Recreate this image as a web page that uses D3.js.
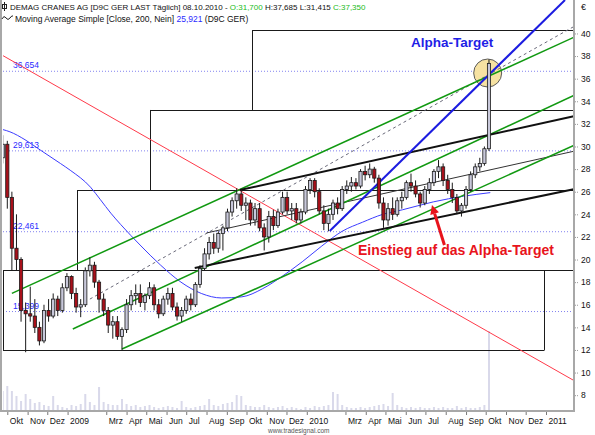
<!DOCTYPE html>
<html>
<head>
<meta charset="utf-8">
<script src="https://cdn.jsdelivr.net/npm/d3@7"></script>
<style>
  body { margin: 0; background: #fff; }
  svg { display: block; font-family: 'Liberation Sans', Arial, sans-serif; }
</style>
</head>
<body>
<div id="chart"></div>
<script>
// weekly candles, first week starts Mon 2008-09-22
const weekStart = '2008-09-22';
const wkOpen = [29.0,30.2,25.5,21.0,20.0,15.5,15.2,15.0,14.0,12.8,15.5,15.0,16.5,15.5,17.5,18.5,17.0,15.8,16.0,19.0,
  19.5,18.0,16.5,15.5,14.2,14.5,13.2,13.8,16.0,16.8,17.0,16.2,16.8,17.5,16.0,15.2,16.5,17.0,15.8,15.0,
  15.5,16.5,16.0,17.8,19.2,20.5,21.5,21.0,22.3,22.8,24.2,25.2,25.8,24.8,25.0,23.5,24.5,22.8,22.0,23.8,
  23.0,24.2,25.5,24.3,24.5,23.5,24.2,26.2,27.0,26.0,24.3,23.2,24.0,25.0,24.5,26.2,26.5,26.8,26.5,27.8,
  27.5,28.0,27.2,25.0,23.5,24.5,24.0,25.2,25.5,26.8,26.5,25.8,25.0,26.2,26.8,27.8,28.2,27.0,26.2,25.5,
  24.3,24.8,26.2,27.5,28.2,28.5,29.8];
const wkHigh = [31.0,30.5,26.0,24.0,20.2,16.2,17.6,16.5,14.5,16.0,16.5,17.0,16.8,17.9,18.8,18.6,17.5,16.5,19.3,20.2,
  19.8,18.2,17.0,15.8,15.0,15.0,14.0,16.5,17.3,17.8,17.8,17.0,18.0,17.8,16.5,16.8,17.5,17.5,16.2,15.8,
  16.8,17.0,18.0,19.5,21.0,22.0,22.3,22.5,23.0,24.5,25.5,26.3,26.2,25.5,25.3,25.0,25.0,23.2,24.3,24.4,
  24.5,26.0,26.0,25.0,25.0,24.5,26.5,27.2,27.2,26.3,24.8,24.5,25.3,25.5,26.5,27.0,27.3,27.2,28.0,28.3,
  28.5,28.2,27.5,25.5,25.0,25.5,25.5,26.0,27.0,27.6,27.0,26.0,26.5,27.2,28.0,28.8,28.5,27.5,26.8,25.8,
  25.0,26.5,27.8,28.5,29.0,30.0,37.685];
const wkLow = [28.5,24.5,19.0,19.0,14.5,11.8,14.5,13.5,12.4,12.6,14.5,14.8,15.0,15.3,17.2,16.5,15.3,14.9,15.8,18.5,
  17.5,15.3,15.0,13.5,13.0,12.9,12.0,13.5,15.5,16.0,15.8,15.5,16.5,15.5,14.8,15.0,16.0,15.5,14.6,14.5,
  15.2,15.5,15.8,17.5,19.0,20.0,20.5,20.6,20.8,22.5,23.8,24.5,24.3,23.5,23.0,23.0,22.5,20.8,21.5,22.6,
  22.8,24.0,24.0,23.5,23.2,23.2,24.0,25.8,25.5,24.0,22.6,22.5,23.5,24.0,24.3,25.8,26.0,26.2,26.3,27.0,
  27.2,26.8,24.5,22.8,23.0,23.5,23.8,24.5,25.3,26.0,25.5,24.6,24.8,25.8,26.5,27.2,26.5,25.8,25.0,24.0,
  23.8,24.5,26.0,27.2,27.8,28.3,29.6];
const wkClose = [30.2,25.5,21.0,20.0,15.5,15.2,15.0,14.0,12.8,15.5,15.0,16.5,15.5,17.5,18.5,17.0,15.8,16.0,19.0,19.5,
  18.0,16.5,15.5,14.2,14.5,13.2,13.8,16.0,16.8,17.0,16.2,16.8,17.5,16.0,15.2,16.5,17.0,15.8,15.0,15.5,
  16.5,16.0,17.8,19.2,20.5,21.5,21.0,22.3,22.8,24.2,25.2,25.8,24.8,25.0,23.5,24.5,22.8,22.0,23.8,23.0,
  24.2,25.5,24.3,24.5,23.5,24.2,26.2,27.0,26.0,24.3,23.2,24.0,25.0,24.5,26.2,26.5,26.8,26.5,27.8,27.5,
  28.0,27.2,25.0,23.5,24.5,24.0,25.2,25.5,26.8,26.5,25.8,25.0,26.2,26.8,27.8,28.2,27.0,26.2,25.5,24.3,
  24.8,26.2,27.5,28.2,28.5,29.8,37.35];
// weekly volume, thousand shares
const wkVolume = [200,250,200,150,100,170,120,80,90,60,50,150,60,40,30,60,50,70,170,90,
  60,240,90,70,60,60,120,70,50,60,40,50,60,40,30,40,50,40,30,100,
  40,30,40,50,60,120,60,50,70,80,90,160,150,60,50,40,40,60,40,30,
  40,50,30,40,30,20,40,30,50,40,50,60,190,170,60,40,30,30,40,30,
  40,50,60,70,50,180,60,40,30,40,30,40,30,30,40,30,40,30,30,50,
  30,40,30,30,40,60,800];

// 200-day simple moving average
const maDates = ['2008-09-24','2008-10-05','2008-10-28','2008-11-20','2008-12-21','2009-01-05','2009-02-05',
  '2009-02-20','2009-03-08','2009-03-23','2009-04-23','2009-05-23','2009-06-23','2009-07-24','2009-08-24',
  '2009-09-24','2009-10-25','2009-11-24','2009-12-25','2010-01-24','2010-02-24','2010-03-27','2010-04-27',
  '2010-05-27','2010-07-13','2010-08-28','2010-10-08'];
const maValues = [31.5,31.3,30.6,29.7,28.5,27.9,26.4,25.3,24.1,23.1,21.2,19.5,18.0,17.0,16.6,16.7,17.4,
  18.5,19.8,21.2,22.5,23.3,24.0,24.4,25.1,25.6,25.92];

// horizontal levels with labels
const levels = [36.654, 29.613, 22.461, 15.399];

// stair boxes
const boxStarts = ['2008-09-24', '2009-01-15', '2009-05-07', '2009-10-09'];
const boxLevels = [12.0, 19.07, 26.15, 33.23, 40.30];
const boxEnd = '2010-12-29';

// drawn trend lines [fromDate, fromValue, toDate, toValue]
const greenLines = [
  ['2008-10-08', 17.0, '2011-02-14', 39.7],
  ['2009-01-09', 13.85, '2011-02-14', 34.56],
  ['2009-03-25', 12.08, '2011-02-14', 30.13]
];
const wedgeLines = [
  ['2009-09-21', 26.15, '2011-02-14', 32.7],
  ['2009-07-14', 19.25, '2011-02-14', 26.24]
];
const midLine = ['2009-08-01', 22.35, '2011-02-14', 29.6];
const dashedLine = ['2009-02-04', 16.5, '2011-02-14', 40.66];
const targetLine = ['2010-02-05', 22.52, '2011-01-30', 42.96];
const redLine = ['2008-09-24', 38.05, '2011-02-14', 9.25];
const targetPoint = ['2010-10-04', 36.5];
const arrowLine = ['2010-07-30', 21.28, '2010-07-11', 24.82];
const noteEntry = ['2010-03-20', 20.4, 'Einstieg auf das Alpha-Target'];
const noteTarget = ['2010-06-09', 38.83, 'Alpha-Target'];

const monthTicks = ['2008-10-01','2008-11-01','2008-12-01','2009-01-01','2009-03-01','2009-04-01','2009-05-01',
  '2009-06-01','2009-07-01','2009-08-01','2009-09-01','2009-10-01','2009-11-01','2009-12-01','2010-01-01',
  '2010-03-01','2010-04-01','2010-05-01','2010-06-01','2010-07-01','2010-08-01','2010-09-01','2010-10-01',
  '2010-11-01','2010-12-01','2011-01-01'];
const monthLabels = ['Okt','Nov','Dez','2009','Mrz','Apr','Mai','Jun','Jul','Aug','Sep','Okt','Nov','Dez',
  '2010','Mrz','Apr','Mai','Jun','Jul','Aug','Sep','Okt','Nov','Dez','2011'];
const priceTicks = d3.range(8, 41, 2);

const width = 595, height = 435;
const plotLeft = 3, plotRight = 575, plotTop = 0, plotBottom = 411;
const parse = d3.timeParse('%Y-%m-%d');
const de = d3.formatLocale({decimal: ',', thousands: '.', grouping: [3], currency: ['', ' €']});
const fmt3 = de.format('.3f');

const x = d3.scaleTime()
  .domain([parse('2008-10-01'), parse('2011-01-01')])
  .range([7.3, 546]);
const y = d3.scaleLinear().domain([6.6, 42.96]).range([plotBottom, plotTop]);
const yVol = d3.scaleLinear().domain([0, 800]).range([plotBottom, plotBottom - 80]);

const firstWed = d3.timeDay.offset(parse(weekStart), 2);
const candles = wkClose.map((c, i) => ({
  date: d3.timeWeek.offset(firstWed, i),
  open: wkOpen[i], high: wkHigh[i], low: wkLow[i], close: c, vol: wkVolume[i]
}));

const svg = d3.select('#chart').append('svg')
  .attr('width', width).attr('height', height);

svg.append('rect').attr('width', width).attr('height', height).attr('fill', '#fff');

svg.append('defs').append('clipPath').attr('id', 'plot-clip')
  .append('rect')
  .attr('x', plotLeft).attr('y', plotTop)
  .attr('width', plotRight - plotLeft).attr('height', plotBottom - plotTop);

const plot = svg.append('g').attr('clip-path', 'url(#plot-clip)');

const seg = (s) => ({x1: x(parse(s[0])), y1: y(s[1]), x2: x(parse(s[2])), y2: y(s[3])});
const drawSeg = (s, color, w, dash) => {
  const p = seg(s);
  plot.append('line')
    .attr('x1', p.x1).attr('y1', p.y1).attr('x2', p.x2).attr('y2', p.y2)
    .attr('stroke', color).attr('stroke-width', w)
    .attr('stroke-dasharray', dash || null);
};

// volume
plot.append('g').selectAll('rect')
  .data(candles)
  .join('rect')
  .attr('x', d => x(d.date) - 1)
  .attr('width', 2)
  .attr('y', d => yVol(d.vol))
  .attr('height', d => plotBottom - yVol(d.vol))
  .attr('fill', '#d9d9ea');

// level lines
plot.append('g').selectAll('line')
  .data(levels)
  .join('line')
  .attr('x1', plotLeft).attr('x2', plotRight)
  .attr('y1', d => y(d)).attr('y2', d => y(d))
  .attr('stroke', '#8282f0').attr('stroke-width', 1)
  .attr('stroke-dasharray', '1,2');

plot.append('g').selectAll('text')
  .data(levels)
  .join('text')
  .attr('x', 13)
  .attr('y', d => y(d) - 3)
  .attr('font-size', 8.5)
  .attr('fill', '#2b2bff')
  .text(d => fmt3(d));

// stair boxes
const boxG = plot.append('g').attr('stroke', '#1a1a1a').attr('stroke-width', 1).attr('fill', 'none');
boxStarts.forEach((s, i) => {
  const bx = Math.round(x(parse(s))) + 0.5;
  boxG.append('line')
    .attr('x1', bx).attr('x2', bx)
    .attr('y1', y(boxLevels[i])).attr('y2', y(boxLevels[i + 1]));
  boxG.append('line')
    .attr('x1', bx).attr('x2', plotRight)
    .attr('y1', Math.round(y(boxLevels[i + 1])) + 0.5).attr('y2', Math.round(y(boxLevels[i + 1])) + 0.5);
});
const bottomY = Math.round(y(boxLevels[0])) + 0.5;
const endX = Math.round(x(parse(boxEnd))) + 0.5;
boxG.append('line')
  .attr('x1', x(parse(boxStarts[0]))).attr('x2', endX)
  .attr('y1', bottomY).attr('y2', bottomY);
boxG.append('line')
  .attr('x1', endX).attr('x2', endX)
  .attr('y1', y(boxLevels[0])).attr('y2', y(boxLevels[1]));

// red line
drawSeg(redLine, '#ff3a4a', 1);

// target circle
plot.append('circle')
  .attr('cx', x(parse(targetPoint[0])))
  .attr('cy', y(targetPoint[1]))
  .attr('r', 14)
  .attr('fill', '#f6e2a2')
  .attr('stroke', '#5a5a5a')
  .attr('stroke-width', 1);

// moving average
plot.append('path')
  .datum(maDates.map((d, i) => [parse(d), maValues[i]]))
  .attr('fill', 'none')
  .attr('stroke', '#3c3cff')
  .attr('stroke-width', 1)
  .attr('d', d3.line().x(d => x(d[0])).y(d => y(d[1])).curve(d3.curveMonotoneX));

// trend lines
drawSeg(dashedLine, '#6a6a7a', 1, '3,3');
drawSeg(midLine, '#333', 1);
greenLines.forEach(s => drawSeg(s, '#119911', 1.5));
wedgeLines.forEach(s => drawSeg(s, '#111', 2));
drawSeg(targetLine, '#1c1ce0', 2);

// candles
const candle = plot.append('g').selectAll('g')
  .data(candles)
  .join('g');
candle.append('line')
  .attr('x1', d => x(d.date)).attr('x2', d => x(d.date))
  .attr('y1', d => y(d.high)).attr('y2', d => y(d.low))
  .attr('stroke', '#1a1a1a').attr('stroke-width', 1);
candle.append('rect')
  .attr('x', d => x(d.date) - 1.6)
  .attr('width', 3.2)
  .attr('y', d => y(Math.max(d.open, d.close)))
  .attr('height', d => Math.max(1, Math.abs(y(d.open) - y(d.close))))
  .attr('fill', d => d.close >= d.open ? '#c8c8da' : '#a8101a')
  .attr('stroke', '#1a1a1a')
  .attr('stroke-width', 0.8);

// arrow
const a = seg(arrowLine);
const ang = Math.atan2(a.y2 - a.y1, a.x2 - a.x1);
const headLen = 9, headW = 4.5;
const bx0 = a.x2 - headLen * Math.cos(ang), by0 = a.y2 - headLen * Math.sin(ang);
plot.append('line')
  .attr('x1', a.x1).attr('y1', a.y1).attr('x2', bx0).attr('y2', by0)
  .attr('stroke', '#e8141c').attr('stroke-width', 3);
plot.append('path')
  .attr('d', `M${a.x2},${a.y2}L${bx0 - headW * Math.sin(ang)},${by0 + headW * Math.cos(ang)}` +
    `L${bx0 + headW * Math.sin(ang)},${by0 - headW * Math.cos(ang)}Z`)
  .attr('fill', '#e8141c');

// notes
svg.append('text')
  .attr('x', x(parse(noteEntry[0]))).attr('y', y(noteEntry[1]))
  .attr('font-size', 14).attr('font-weight', 'bold').attr('fill', '#e8141c')
  .text(noteEntry[2]);
svg.append('text')
  .attr('x', x(parse(noteTarget[0]))).attr('y', y(noteTarget[1]))
  .attr('font-size', 13.5).attr('font-weight', 'bold').attr('fill', '#1f1fe6')
  .text(noteTarget[2]);

// frame
svg.append('line').attr('x1', 1).attr('x2', 1).attr('y1', 0).attr('y2', plotBottom + 1)
  .attr('stroke', '#a8a8a8').attr('stroke-width', 2);
svg.append('line').attr('x1', plotRight - 1).attr('x2', plotRight - 1).attr('y1', 0).attr('y2', plotBottom + 1)
  .attr('stroke', '#a8a8a8').attr('stroke-width', 2);
svg.append('line').attr('x1', 0).attr('x2', plotRight).attr('y1', plotBottom).attr('y2', plotBottom)
  .attr('stroke', '#a8a8a8').attr('stroke-width', 2);

// right price axis
const yAxis = svg.append('g')
  .attr('transform', `translate(${plotRight},0)`)
  .call(d3.axisRight(y).tickValues(priceTicks).tickSize(3).tickPadding(3).tickFormat(d3.format('d')));
yAxis.select('.domain').remove();
yAxis.selectAll('line').attr('stroke', '#999').attr('stroke-dasharray', '1,1');
yAxis.selectAll('text').attr('font-size', 8.5).attr('fill', '#111')
  .attr('font-family', "'Liberation Sans', Arial, sans-serif");
svg.append('text').attr('x', 581).attr('y', 10).attr('font-size', 9).attr('fill', '#111').text('€');

// bottom time axis
const xAxis = svg.append('g')
  .attr('transform', `translate(0,${plotBottom + 1})`)
  .call(d3.axisBottom(x)
    .tickValues(monthTicks.map(parse))
    .tickSize(3)
    .tickFormat((d, i) => monthLabels[i]));
xAxis.select('.domain').remove();
xAxis.selectAll('line').attr('stroke', '#777');
xAxis.selectAll('text')
  .attr('text-anchor', 'start')
  .attr('dx', 2)
  .attr('y', 6)
  .attr('font-size', 8.5).attr('fill', '#111')
  .attr('font-family', "'Liberation Sans', Arial, sans-serif");

svg.append('text').attr('x', 268).attr('y', 433).attr('font-size', 6.5).attr('fill', '#555')
  .text('www.tradesignal.com');

// header
const icon = svg.append('g').attr('stroke', '#222').attr('fill', 'none').attr('stroke-width', 1);
icon.append('line').attr('x1', 4.5).attr('x2', 4.5).attr('y1', 2).attr('y2', 11);
icon.append('rect').attr('x', 2.5).attr('y', 4.5).attr('width', 4).attr('height', 4);
svg.append('path')
  .attr('d', 'M2,19 Q4,15 6,18 T10,18 T13,16')
  .attr('stroke', '#222').attr('fill', 'none').attr('stroke-width', 1);

const h1 = svg.append('text').attr('x', 10).attr('y', 10).attr('font-size', 8).attr('fill', '#111');
h1.append('tspan').text('DEMAG CRANES AG [D9C GER LAST Täglich] 08.10.2010 - ');
h1.append('tspan').attr('fill', '#22bb22').text('O:31,700');
h1.append('tspan').text(' H:37,685 L:31,415 ');
h1.append('tspan').attr('fill', '#22bb22').text('C:37,350');

const h2 = svg.append('text').attr('x', 15).attr('y', 22).attr('font-size', 8.5).attr('fill', '#111');
h2.append('tspan').text('Moving Average Simple [Close, 200, Nein] ');
h2.append('tspan').attr('fill', '#2b2bff').text('25,921');
h2.append('tspan').text(' (D9C GER)');
</script>
</body>
</html>
